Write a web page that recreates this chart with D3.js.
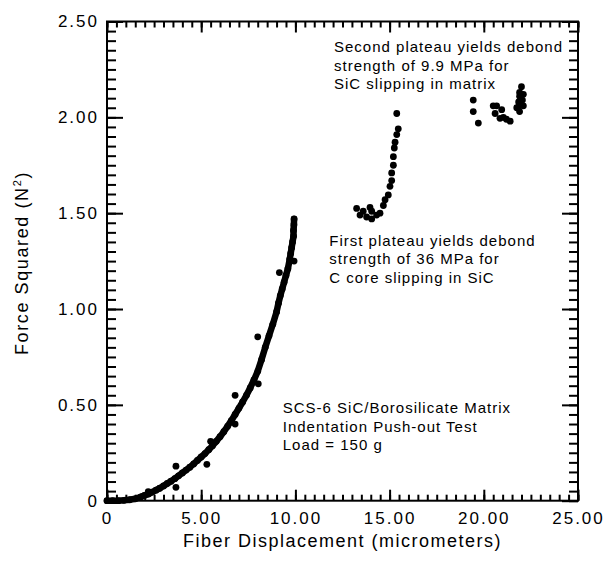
<!DOCTYPE html>
<html>
<head>
<meta charset="utf-8">
<script src="https://cdn.jsdelivr.net/npm/d3@7"></script>
<style>
  body { margin: 0; background: #fff; }
  text { font-family: "Liberation Sans", Arial, Helvetica, sans-serif; fill: #000; }
</style>
</head>
<body>
<div id="chart"></div>
<script>
// loading curve (fiber being pushed, before the first plateau)
const curveX = [0.0, 0.3, 0.6, 0.9, 1.2, 1.5, 1.8, 2.0, 2.2, 2.4, 2.6, 2.8, 3.0, 3.2, 3.4, 3.6, 3.8, 4.0, 4.2, 4.4,
    4.6, 4.8, 5.0, 5.2, 5.4, 5.6, 5.8, 6.0, 6.2, 6.4, 6.6, 6.8, 7.0, 7.2, 7.4, 7.6, 7.8, 8.0, 8.2, 8.4,
    8.6, 8.8, 9.0, 9.1, 9.2, 9.3, 9.4, 9.5, 9.6, 9.7, 9.75, 9.8, 9.85, 9.9, 9.9, 9.92, 9.93];
const curveY = [0.000, 0.000, 0.000, 0.002, 0.005, 0.010, 0.020, 0.028, 0.035, 0.045, 0.055, 0.065, 0.077, 0.090, 0.102, 0.115, 0.130, 0.145, 0.160, 0.175,
    0.192, 0.210, 0.228, 0.246, 0.266, 0.287, 0.310, 0.334, 0.360, 0.388, 0.418, 0.450, 0.482, 0.515, 0.550, 0.588, 0.630, 0.675, 0.735, 0.800,
    0.860, 0.920, 0.985, 1.030, 1.070, 1.105, 1.140, 1.175, 1.210, 1.260, 1.290, 1.320, 1.350, 1.380, 1.410, 1.440, 1.470];

// scattered points off the loading curve
const strayX = [2.19, 3.66, 3.66, 5.3, 5.5, 6.8, 6.8, 8.03, 8.0, 9.15, 9.93];
const strayY = [0.047, 0.18, 0.07, 0.19, 0.31, 0.40, 0.55, 0.61, 0.855, 1.19, 1.25];

// first plateau
const plateau1X = [13.25, 13.43, 13.6, 13.78, 13.96, 14.05, 14.05, 14.31, 14.49, 14.67, 14.76, 14.93, 15.02, 15.11, 15.11,
    15.2, 15.2, 15.25, 15.29, 15.38, 15.46, 15.38];
const plateau1Y = [1.525, 1.49, 1.51, 1.48, 1.53, 1.51, 1.47, 1.49, 1.50, 1.54, 1.57, 1.595, 1.64, 1.67, 1.71,
    1.75, 1.795, 1.84, 1.87, 1.91, 1.94, 2.02];

// second plateau
const plateau2X = [19.44, 19.44, 19.71, 20.5, 20.68, 20.6, 20.86, 20.95, 21.04, 21.2, 21.4, 21.75, 21.9, 21.9, 21.85,
    21.85, 21.9, 22.0, 22.1, 22.1, 22.05];
const plateau2Y = [2.09, 2.03, 1.97, 2.06, 2.06, 2.02, 1.995, 2.04, 2.00, 1.99, 1.98, 2.05, 2.13, 2.11, 2.08,
    2.055, 2.03, 2.16, 2.12, 2.06, 2.09];

const xTicks = [0, 5, 10, 15, 20, 25];
const xTickLabels = ["0", "5.00", "10.00", "15.00", "20.00", "25.00"];
const yTicks = [0, 0.5, 1, 1.5, 2, 2.5];
const yTickLabels = ["0", "0.50", "1.00", "1.50", "2.00", "2.50"];

const notes = [
    {x: 12.05, y: 2.34, lines: ["Second plateau yields debond", "strength of 9.9 MPa for", "SiC slipping in matrix"]},
    {x: 11.8, y: 1.329, lines: ["First plateau yields debond", "strength of 36 MPa for", "C core slipping in SiC"]},
    {x: 9.33, y: 0.456, lines: ["SCS-6 SiC/Borosilicate Matrix", "Indentation Push-out Test", "Load = 150 g"]}
];

const margin = {top: 21.5, right: 29, bottom: 61.3, left: 107};
const W = 607, H = 562;
const width = W - margin.left - margin.right;
const height = H - margin.top - margin.bottom;

const zip = (xs, ys) => xs.map((x, i) => [x, ys[i]]);

const svg = d3.select("#chart").append("svg")
    .attr("width", W).attr("height", H);

const g = svg.append("g").attr("transform", `translate(${margin.left},${margin.top})`);

const x = d3.scaleLinear().domain([0, 25]).range([0, width]);
const y = d3.scaleLinear().domain([0, 2.5]).range([height, 0]);

const xMinor = d3.range(0, 25.001, 0.5);
const yMinor = d3.range(0, 2.5001, 0.05);

// tick labels
g.append("g").attr("transform", `translate(0,${height})`)
    .call(d3.axisBottom(x).tickValues(xTicks).tickSize(0).tickPadding(11)
        .tickFormat((d, i) => xTickLabels[i]))
    .call(a => a.select(".domain").remove())
    .selectAll("text")
    .attr("font-size", 17).attr("letter-spacing", 2).attr("fill", "#000")
    .style("font-family", "Liberation Sans, Arial, sans-serif");
g.append("g")
    .call(d3.axisLeft(y).tickValues(yTicks).tickSize(0).tickPadding(8)
        .tickFormat((d, i) => yTickLabels[i]))
    .call(a => a.select(".domain").remove())
    .selectAll("text")
    .attr("font-size", 17).attr("letter-spacing", 2).attr("fill", "#000")
    .style("font-family", "Liberation Sans, Arial, sans-serif");

// frame
g.append("rect")
    .attr("width", width).attr("height", height)
    .attr("fill", "none").attr("stroke", "#000").attr("stroke-width", 2);

// loading curve drawn as a thick run of dots
const curve = zip(curveX, curveY);
g.append("path")
    .datum(curve)
    .attr("fill", "none")
    .attr("stroke", "#000")
    .attr("stroke-width", 6.5)
    .attr("stroke-linejoin", "round")
    .attr("stroke-linecap", "round")
    .attr("d", d3.line().x(d => x(d[0])).y(d => y(d[1])));

const points = [
    ...curve,
    ...zip(strayX, strayY),
    ...zip(plateau1X, plateau1Y),
    ...zip(plateau2X, plateau2Y)
];

g.append("g")
    .selectAll("circle")
    .data(points)
    .join("circle")
    .attr("cx", d => x(d[0]))
    .attr("cy", d => y(d[1]))
    .attr("r", 3.4)
    .attr("fill", "#000");

// annotations
notes.forEach(n => {
    const t = g.append("text")
        .attr("x", x(n.x))
        .attr("y", y(n.y))
        .attr("font-size", 15)
        .attr("letter-spacing", 1);
    n.lines.forEach((line, i) => {
        t.append("tspan")
            .attr("x", x(n.x))
            .attr("dy", i === 0 ? 0 : 18.4)
            .text(line);
    });
});

// axis titles
svg.append("text")
    .attr("x", margin.left + width / 2)
    .attr("y", 547)
    .attr("text-anchor", "middle")
    .attr("font-size", 18)
    .attr("letter-spacing", 1.5)
    .text("Fiber Displacement (micrometers)");

const yTitle = svg.append("text")
    .attr("transform", `translate(28,${263}) rotate(-90)`)
    .attr("text-anchor", "middle")
    .attr("font-size", 18)
    .attr("letter-spacing", 1.6)
    .text("Force Squared (N");
yTitle.append("tspan").attr("font-size", 11).attr("dy", -7).text("2");
yTitle.append("tspan").attr("dy", 7).text(")");

// inward ticks on all four sides (minor every 0.5 / 0.05, major at labels)
const side = (sel, axis) => sel.call(axis).call(a => {
    a.select(".domain").remove();
    a.selectAll("text").remove();
    a.selectAll("line").attr("stroke", "#000").attr("stroke-width", 2);
});

const ticks = svg.append("g").attr("transform", `translate(${margin.left},${margin.top})`);
ticks.append("g").attr("transform", `translate(0,${height})`)
    .call(side, d3.axisBottom(x).tickValues(xMinor).tickSize(-6));
ticks.append("g").attr("transform", `translate(0,${height})`)
    .call(side, d3.axisBottom(x).tickValues(xTicks).tickSize(-11));
ticks.append("g")
    .call(side, d3.axisTop(x).tickValues(xMinor).tickSize(-6));
ticks.append("g")
    .call(side, d3.axisTop(x).tickValues(xTicks).tickSize(-11));
ticks.append("g")
    .call(side, d3.axisLeft(y).tickValues(yMinor).tickSize(-9));
ticks.append("g")
    .call(side, d3.axisLeft(y).tickValues(yTicks).tickSize(-16));
ticks.append("g").attr("transform", `translate(${width},0)`)
    .call(side, d3.axisRight(y).tickValues(yMinor).tickSize(-9));
ticks.append("g").attr("transform", `translate(${width},0)`)
    .call(side, d3.axisRight(y).tickValues(yTicks).tickSize(-16));
</script>
</body>
</html>
